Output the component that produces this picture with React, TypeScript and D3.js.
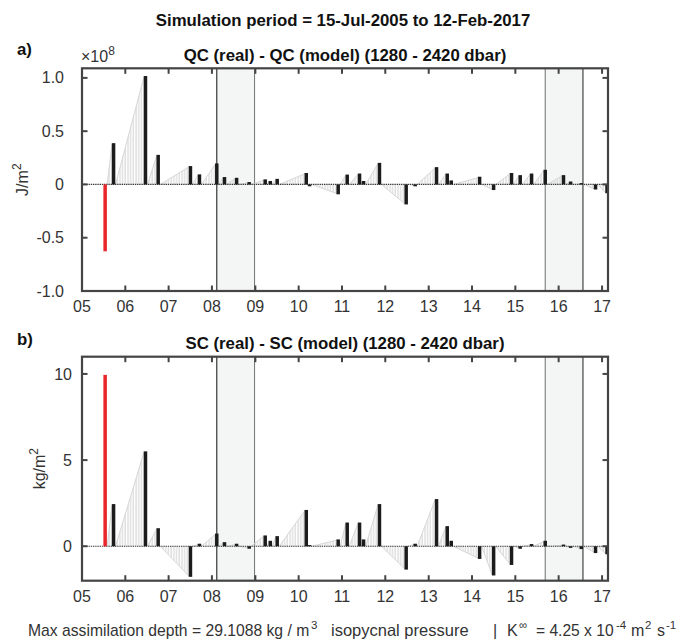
import React from "react";
import * as d3 from "d3";

// ---------- DATA ----------
const profileDates: string[] = [
  "2005-07-15", "2005-09-24", "2006-06-20", "2006-10-05", "2007-07-04", "2007-09-18",
  "2008-02-11", "2008-04-16", "2008-07-27", "2008-11-10", "2009-03-25", "2009-05-07",
  "2009-07-04", "2010-03-06", "2010-04-03", "2010-11-30", "2011-02-14", "2011-05-29",
  "2011-07-02", "2011-11-13", "2012-06-25", "2012-09-09", "2013-03-08", "2013-06-06",
  "2013-07-10", "2014-03-06", "2014-07-02", "2014-11-30", "2015-02-11", "2015-05-18",
  "2015-09-10", "2016-02-11", "2016-04-11", "2016-07-10", "2016-11-07", "2017-02-12",
];

// QC (real) - QC (model), units of 1e8 J/m^2
const qcValues: number[] = [
  -0.62, 0.38, 1.01, 0.27, 0.165, 0.087,
  0.19, 0.062, 0.055, 0.015, 0.04, 0.025,
  0.045, 0.10, -0.01, -0.085, 0.085, 0.095,
  0.025, 0.195, -0.18, -0.01, 0.155, 0.095,
  0.03, 0.065, -0.045, 0.10, 0.08, 0.095,
  0.13, 0.08, 0.02, 0.005, -0.04, -0.075,
];

// SC (real) - SC (model), kg/m^2
const scValues: number[] = [
  9.9, 2.4, 5.46, 1.0, -1.73, 0.1,
  0.69, 0.19, 0.1, -0.1, 0.58, 0.27,
  0.54, 2.06, 0.02, 0.35, 1.33, 1.33,
  0.35, 2.4, -1.31, 0.1, 2.69, 1.12,
  0.27, -0.69, -1.65, -1.04, -0.1, 0.08,
  0.27, 0.05, -0.05, -0.12, -0.35, -0.42,
];

const shadedStart: string[] = ["2008-02-11", "2015-09-10"];
const shadedEnd: string[] = ["2008-12-25", "2016-07-24"];

const yearTicks: number[] = [2005, 2006, 2007, 2008, 2009, 2010, 2011, 2012, 2013, 2014, 2015, 2016, 2017];
const xDomain: string[] = ["2005-01-01", "2017-02-20"];

const qcTicks: number[] = [-1, -0.5, 0, 0.5, 1];
const qcTickLabels: string[] = ["-1.0", "-0.5", "0", "0.5", "1.0"];
const scTicks: number[] = [0, 5, 10];
const scTickLabels: string[] = ["0", "5", "10"];

// ---------- LAYOUT ----------
const W = 693;
const H = 640;
const FONT = "'Liberation Sans', Arial, Helvetica, sans-serif";
const AXC = "#444444";
const TXT = "#333333";
const TICKFS = 16;
const TITLEFS = 16.8;
const SUPFS = 11.5;
const parse = d3.timeParse("%Y-%m-%d");

const x = d3
  .scaleTime()
  .domain(xDomain.map((d) => parse(d) as Date))
  .range([82, 608]);

interface PanelProps {
  id: string;
  values: number[];
  ylim: [number, number];
  top: number;
  bottom: number;
  ticks: number[];
  tickLabels: string[];
  labelRight: number;
  title: string;
  titleY: number;
  letter: string;
  letterY: number;
  ylabel: string;
  ylabelX: number;
  expo?: boolean;
}

function Panel(p: PanelProps) {
  const y = d3.scaleLinear().domain(p.ylim).range([p.bottom, p.top]);
  const x0 = x.range()[0];
  const x1 = x.range()[1];
  const dates = profileDates.map((d) => parse(d) as Date);
  const y0 = y(0);
  const clipId = "clip-" + p.id;
  const hatchId = "hatch-" + p.id;
  const ramps = dates.slice(1).map((d, i) => ({
    a: dates[i],
    b: d,
    v: p.values[i + 1],
  }));
  const midY = (p.top + p.bottom) / 2;
  return (
    <g>
      <defs>
        <clipPath id={clipId}>
          <rect x={x0} y={p.top} width={x1 - x0} height={p.bottom - p.top} />
        </clipPath>
        <pattern id={hatchId} patternUnits="userSpaceOnUse" width={2.7} height={8}>
          <line x1={1} y1={0} x2={1} y2={8} stroke="#c8c8c8" strokeWidth={0.9} />
        </pattern>
      </defs>
      {/* shaded periods */}
      {shadedStart.map((s, i) => {
        const xa = x(parse(s) as Date);
        const xb = x(parse(shadedEnd[i]) as Date);
        return (
          <g key={"sh" + i}>
            <rect x={xa} y={p.top} width={xb - xa} height={p.bottom - p.top} fill="#f4f6f6" />
            <line x1={xa} x2={xa} y1={p.top} y2={p.bottom} stroke={i === 0 ? "#222" : "#7a7a7a"} strokeWidth={1.1} />
            <line x1={xb} x2={xb} y1={p.top} y2={p.bottom} stroke={i === 0 ? "#7a7a7a" : "#333"} strokeWidth={1.1} />
          </g>
        );
      })}
      <g clipPath={`url(#${clipId})`}>
        {/* ramps */}
        {ramps.map((r, i) => {
          const xa = x(r.a);
          const xb = x(r.b);
          const yv = y(r.v);
          return (
            <g key={"r" + i}>
              <polygon
                points={`${xa + 2},${y0} ${xb - 1.5},${y0} ${xb - 1.5},${yv}`}
                fill={`url(#${hatchId})`}
              />
              <line x1={xa + 2} y1={y0} x2={xb - 1.5} y2={yv} stroke="#d2d2d2" strokeWidth={0.9} />
            </g>
          );
        })}
        {/* zero line */}
        <line x1={x0} x2={x1} y1={y0} y2={y0} stroke="#3a3a3a" strokeWidth={1.2} strokeDasharray="1.4,0.8" />
        {/* bars */}
        {dates.map((d, i) => {
          const v = p.values[i];
          const yy = y(v);
          const isRed = i === 0;
          return (
            <rect
              key={"b" + i}
              x={x(d) - 1.75}
              width={3.5}
              y={Math.min(yy, y0) - (v >= 0 ? 0.8 : 0)}
              height={Math.abs(yy - y0) + 0.8}
              fill={isRed ? "#e8262b" : "#1c1c1c"}
            />
          );
        })}
      </g>
      {/* axes box */}
      <rect x={x0} y={p.top} width={x1 - x0} height={p.bottom - p.top} fill="none" stroke={AXC} strokeWidth={2.2} />
      {/* x ticks */}
      {yearTicks.map((yr) => {
        const xx = x(new Date(yr, 0, 1));
        return (
          <g key={"xt" + yr}>
            <line x1={xx} x2={xx} y1={p.bottom} y2={p.bottom - 5.5} stroke={AXC} strokeWidth={2} />
            <line x1={xx} x2={xx} y1={p.top} y2={p.top + 5.5} stroke={AXC} strokeWidth={2} />
          </g>
        );
      })}
      {/* y ticks */}
      {p.ticks.map((t, i) => {
        const yy = y(t);
        return (
          <g key={"yt" + i}>
            <line x1={x0} x2={x0 + 5.5} y1={yy} y2={yy} stroke={AXC} strokeWidth={2} />
            <line x1={x1} x2={x1 - 5.5} y1={yy} y2={yy} stroke={AXC} strokeWidth={2} />
            <text x={p.labelRight} y={yy + 5.6} textAnchor="end" fontSize={TICKFS} fill={TXT} fontFamily={FONT}>
              {p.tickLabels[i]}
            </text>
          </g>
        );
      })}
      {/* x tick labels */}
      {yearTicks.map((yr) => (
        <text
          key={"xl" + yr}
          x={x(new Date(yr, 0, 1))}
          y={p.bottom + 21}
          textAnchor="middle"
          fontSize={TICKFS}
          fill={TXT}
          fontFamily={FONT}
        >
          {String(yr % 100).padStart(2, "0")}
        </text>
      ))}
      {/* title */}
      <text x={345} y={p.titleY} textAnchor="middle" fontSize={TITLEFS} fontWeight="bold" fill="#111" fontFamily={FONT}>
        {p.title}
      </text>
      <text x={17} y={p.letterY} fontSize={TITLEFS} fontWeight="bold" fill="#111" fontFamily={FONT}>
        {p.letter}
      </text>
      {p.expo && (
        <text x={81} y={p.titleY + 1} fontSize={TICKFS} fill={TXT} fontFamily={FONT}>
          ×10
          <tspan dy={-7} fontSize={12}>
            8
          </tspan>
        </text>
      )}
      {/* y label */}
      <text
        transform={`translate(${p.ylabelX},${midY}) rotate(-90)`}
        textAnchor="middle"
        fontSize={TICKFS}
        fill={TXT}
        fontFamily={FONT}
      >
        {p.ylabel}
        <tspan dy={-7} fontSize={12}>
          2
        </tspan>
      </text>
    </g>
  );
}

// footer pieces: [text, x position, is superscript, font size]
const footerPieces: [string, number, boolean, number][] = [
  ["Max assimilation depth = 29.1088 kg / m", 28, false, 15.7],
  ["3", 311, true, SUPFS],
  ["isopycnal pressure", 331, false, 16.5],
  ["|", 493, false, 16],
  ["K", 507, false, 16],
  ["∞", 519, true, SUPFS],
  ["= 4.25 x 10", 536, false, 15.6],
  ["-4", 616, true, SUPFS],
  ["m", 631, false, 16],
  ["2", 645, true, SUPFS],
  ["s", 657, false, 16],
  ["-1", 666, true, SUPFS],
];

export default function App() {
  return (
    <svg
      width={W}
      height={H}
      viewBox={`0 0 ${W} ${H}`}
      style={{ position: "absolute", left: 0, top: 0, background: "#fff", display: "block" }}
    >
      <rect width={W} height={H} fill="#fff" />
      <text x={343} y={26} textAnchor="middle" fontSize={TITLEFS} fontWeight="bold" fill="#111" fontFamily={FONT}>
        Simulation period = 15-Jul-2005 to 12-Feb-2017
      </text>
      <Panel
        id="qc"
        values={qcValues}
        ylim={[-1, 1.09]}
        top={68.3}
        bottom={291}
        ticks={qcTicks}
        tickLabels={qcTickLabels}
        labelRight={64}
        title="QC (real) - QC (model) (1280 - 2420 dbar)"
        titleY={61}
        letter="a)"
        letterY={55}
        ylabel="J/m"
        ylabelX={28}
        expo
      />
      <Panel
        id="sc"
        values={scValues}
        ylim={[-2, 11]}
        top={356.7}
        bottom={580.7}
        ticks={scTicks}
        tickLabels={scTickLabels}
        labelRight={72}
        title="SC (real) - SC (model) (1280 - 2420 dbar)"
        titleY={349}
        letter="b)"
        letterY={345}
        ylabel="kg/m"
        ylabelX={45}
      />
      <g fontFamily={FONT} fill={TXT}>
        {footerPieces.map(([t, xx, sup, fs], i) => (
          <text key={"f" + i} x={xx} y={sup ? 629 : 636} fontSize={fs}>
            {t}
          </text>
        ))}
      </g>
    </svg>
  );
}
